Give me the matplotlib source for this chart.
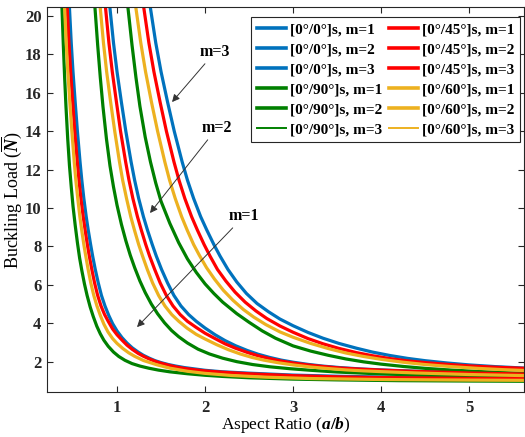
import matplotlib
matplotlib.use('Agg')
import matplotlib.pyplot as plt

plt.rcParams['font.family'] = 'Liberation Serif'
plt.rcParams['font.weight'] = 'bold'
plt.rcParams['mathtext.fontset'] = 'custom'
plt.rcParams['mathtext.rm'] = 'Liberation Serif:bold'
plt.rcParams['mathtext.it'] = 'Liberation Serif:italic:bold'

# [0/0]s
ar_00_m1 = [0.445, 0.46, 0.48, 0.50, 0.525, 0.55, 0.58, 0.60, 0.623, 0.65, 0.673, 0.70, 0.723, 0.753, 0.787, 0.823, 0.863, 0.907, 0.95, 1.0,
            1.057, 1.113, 1.173, 1.24, 1.3, 1.367, 1.433, 1.5, 1.583, 1.667, 1.767, 1.883, 2.0, 2.2, 2.5, 3.0, 3.5, 4.0, 5.0, 6.0]
n_00_m1 = [22, 20.4, 18.6, 17.1, 15.5, 14.0, 12.4, 11.45, 10.5, 9.55, 8.85, 8.1, 7.5, 6.8, 6.1, 5.45, 4.9, 4.4, 3.98, 3.6,
           3.25, 2.97, 2.72, 2.5, 2.33, 2.18, 2.05, 1.95, 1.85, 1.77, 1.69, 1.62, 1.55, 1.47, 1.4, 1.3, 1.24, 1.2, 1.16, 1.13]
ar_00_m2 = [0.89, 0.92, 0.96, 1.0, 1.05, 1.1, 1.16, 1.2, 1.246, 1.3, 1.346, 1.4, 1.446, 1.506, 1.574, 1.646, 1.726, 1.814,
            1.9, 2.0, 2.114, 2.226, 2.346, 2.48, 2.6, 2.734, 2.866, 3.0, 3.166, 3.334, 3.534, 3.766, 4.0, 4.4, 5.0, 6.0]
n_00_m2 = [22, 20.4, 18.6, 17.1, 15.5, 14.0, 12.4, 11.45, 10.5, 9.55, 8.85, 8.1, 7.5, 6.8, 6.1, 5.45, 4.9, 4.45,
           4.1, 3.75, 3.4, 3.1, 2.83, 2.58, 2.39, 2.22, 2.08, 1.97, 1.86, 1.77, 1.69, 1.62, 1.57, 1.5, 1.42, 1.33]
ar_00_m3 = [1.335, 1.38, 1.44, 1.50, 1.575, 1.65, 1.74, 1.80, 1.87, 1.95, 2.02, 2.10, 2.17, 2.26, 2.36, 2.47, 2.59,
            2.72, 2.85, 3.0, 3.17, 3.34, 3.52, 3.72, 3.9, 4.1, 4.3, 4.5, 4.75, 5.0, 5.3, 5.65, 6.0]
n_00_m3 = [22, 20.4, 18.6, 17.1, 15.5, 14.0, 12.4, 11.45, 10.5, 9.55, 8.85, 8.1, 7.5, 6.8, 6.15, 5.55, 5.03,
           4.6, 4.22, 3.87, 3.52, 3.22, 2.95, 2.7, 2.5, 2.32, 2.17, 2.05, 1.93, 1.83, 1.74, 1.66, 1.6]

# [0/90]s
ar_090_m1 = [0.363, 0.375, 0.39, 0.405, 0.42, 0.44, 0.46, 0.48, 0.50, 0.525, 0.55, 0.575, 0.60, 0.63, 0.66, 0.695, 0.73, 0.77, 0.81,
             0.85, 0.9, 0.96, 1.02, 1.09, 1.17, 1.26, 1.36, 1.47, 1.6, 1.8, 2.0, 2.2, 2.5, 3.0, 3.5, 4.2, 5.0, 6.0]
n_090_m1 = [22, 20.4, 18.5, 16.8, 15.3, 13.6, 12.2, 11.1, 10.1, 9.1, 8.2, 7.4, 6.75, 6.05, 5.45, 4.85, 4.35, 3.85, 3.45,
            3.12, 2.8, 2.5, 2.27, 2.07, 1.9, 1.77, 1.66, 1.56, 1.47, 1.37, 1.29, 1.23, 1.16, 1.09, 1.05, 1.01, 0.99, 0.97]
ar_090_m2 = [0.726, 0.75, 0.78, 0.81, 0.84, 0.88, 0.92, 0.96, 1.0, 1.05, 1.1, 1.15, 1.2, 1.26, 1.32, 1.39, 1.46, 1.54,
             1.62, 1.7, 1.8, 1.92, 2.05, 2.2, 2.36, 2.54, 2.74, 2.97, 3.2, 3.5, 3.9, 4.4, 5.0, 5.7, 6.0]
n_090_m2 = [22, 20.4, 18.5, 16.8, 15.3, 13.6, 12.2, 11.1, 10.15, 9.15, 8.3, 7.55, 6.9, 6.2, 5.6, 5.0, 4.5, 4.02,
            3.62, 3.3, 2.97, 2.65, 2.4, 2.18, 2.0, 1.85, 1.73, 1.63, 1.55, 1.46, 1.38, 1.3, 1.24, 1.19, 1.17]
ar_090_m3 = [1.089, 1.125, 1.17, 1.215, 1.26, 1.32, 1.38, 1.44, 1.5, 1.6, 1.7, 1.8, 1.9, 2.0, 2.1, 2.2, 2.36, 2.5,
             2.65, 2.8, 3.0, 3.2, 3.4, 3.6, 3.8, 4.0, 4.25, 4.5, 4.8, 5.1, 5.4, 5.7, 6.0]
n_090_m3 = [22, 20.4, 18.5, 16.8, 15.3, 13.7, 12.4, 11.3, 10.35, 9.2, 8.2, 7.35, 6.65, 6.05, 5.55, 5.1, 4.5, 4.05,
            3.6, 3.22, 2.82, 2.55, 2.33, 2.14, 1.99, 1.87, 1.75, 1.65, 1.56, 1.49, 1.43, 1.38, 1.34]

# [0/45]s
ar_045_m1 = [0.42, 0.435, 0.454, 0.473, 0.497, 0.52, 0.549, 0.568, 0.59, 0.616, 0.638, 0.663, 0.685, 0.714, 0.745, 0.78, 0.818, 0.859, 0.9,
             0.95, 1.0, 1.057, 1.113, 1.173, 1.24, 1.3, 1.367, 1.433, 1.5, 1.583, 1.667, 1.767, 1.883, 2.0, 2.2, 2.5, 3.0, 3.5, 4.0, 5.0, 6.0]
n_045_m1 = [22, 20.4, 18.6, 17.1, 15.5, 14.0, 12.4, 11.45, 10.5, 9.55, 8.85, 8.1, 7.5, 6.8, 6.1, 5.45, 4.9, 4.45, 4.1,
            3.7, 3.4, 3.12, 2.86, 2.64, 2.43, 2.28, 2.14, 2.02, 1.92, 1.82, 1.73, 1.65, 1.58, 1.52, 1.45, 1.37, 1.27, 1.21, 1.17, 1.13, 1.11]
ar_045_m2 = [0.84, 0.87, 0.908, 0.946, 0.994, 1.04, 1.098, 1.136, 1.18, 1.232, 1.276, 1.326, 1.37, 1.428, 1.49, 1.56, 1.636, 1.718,
             1.8, 1.9, 2.0, 2.114, 2.226, 2.346, 2.48, 2.6, 2.734, 2.866, 3.0, 3.166, 3.334, 3.534, 3.766, 4.0, 4.4, 5.0, 6.0]
n_045_m2 = [22, 20.4, 18.6, 17.1, 15.5, 14.0, 12.4, 11.45, 10.5, 9.55, 8.85, 8.1, 7.5, 6.8, 6.1, 5.45, 4.9, 4.45,
            4.1, 3.78, 3.48, 3.2, 2.93, 2.7, 2.48, 2.31, 2.16, 2.03, 1.93, 1.83, 1.75, 1.67, 1.61, 1.56, 1.49, 1.41, 1.32]
ar_045_m3 = [1.26, 1.305, 1.362, 1.419, 1.49, 1.561, 1.647, 1.704, 1.77, 1.847, 1.913, 1.989, 2.056, 2.141, 2.236, 2.341, 2.455,
             2.578, 2.7, 2.85, 3.0, 3.17, 3.34, 3.52, 3.72, 3.9, 4.1, 4.3, 4.5, 4.75, 5.0, 5.3, 5.65, 6.0]
n_045_m3 = [22, 20.4, 18.6, 17.1, 15.5, 14.0, 12.4, 11.45, 10.5, 9.55, 8.85, 8.1, 7.5, 6.8, 6.2, 5.62, 5.1,
            4.64, 4.25, 3.86, 3.53, 3.2, 2.93, 2.69, 2.47, 2.31, 2.16, 2.04, 1.95, 1.86, 1.78, 1.71, 1.65, 1.6]

# [0/60]s
ar_060_m1 = [0.392, 0.405, 0.423, 0.441, 0.464, 0.487, 0.514, 0.532, 0.554, 0.578, 0.599, 0.623, 0.645, 0.672, 0.702, 0.736, 0.772, 0.811,
             0.851, 0.897, 0.95, 1.0, 1.067, 1.133, 1.2, 1.3, 1.45, 1.6, 1.8, 2.0, 2.3, 2.7, 3.2, 4.0, 5.0, 6.0]
n_060_m1 = [22, 20.4, 18.6, 17.1, 15.5, 14.0, 12.4, 11.45, 10.5, 9.55, 8.85, 8.1, 7.5, 6.8, 6.1, 5.45, 4.9, 4.4,
            3.95, 3.55, 3.2, 2.95, 2.68, 2.46, 2.28, 2.06, 1.84, 1.66, 1.5, 1.39, 1.28, 1.19, 1.12, 1.07, 1.04, 1.02]
ar_060_m2 = [0.784, 0.81, 0.846, 0.882, 0.928, 0.974, 1.028, 1.064, 1.108, 1.156, 1.198, 1.246, 1.29, 1.344, 1.404, 1.472, 1.544, 1.622,
             1.702, 1.794, 1.9, 2.0, 2.134, 2.266, 2.4, 2.534, 2.666, 2.834, 3.0, 3.2, 3.4, 3.6, 3.8, 4.0, 4.4, 5.0, 6.0]
n_060_m2 = [22, 20.4, 18.6, 17.1, 15.5, 14.0, 12.4, 11.45, 10.5, 9.55, 8.85, 8.1, 7.5, 6.8, 6.1, 5.45, 4.9, 4.45,
            4.1, 3.75, 3.42, 3.18, 2.88, 2.62, 2.4, 2.22, 2.08, 1.94, 1.83, 1.72, 1.64, 1.57, 1.52, 1.48, 1.41, 1.33, 1.24]
ar_060_m3 = [1.176, 1.215, 1.27, 1.324, 1.392, 1.461, 1.543, 1.597, 1.661, 1.734, 1.797, 1.87, 1.934, 2.016, 2.107, 2.207, 2.316,
             2.434, 2.553, 2.69, 2.85, 3.0, 3.2, 3.4, 3.6, 3.8, 4.0, 4.25, 4.5, 4.8, 5.1, 5.4, 5.7, 6.0]
n_060_m3 = [22, 20.4, 18.6, 17.1, 15.5, 14.0, 12.4, 11.45, 10.5, 9.55, 8.85, 8.1, 7.55, 6.9, 6.3, 5.72, 5.2,
            4.72, 4.32, 3.93, 3.55, 3.27, 2.95, 2.68, 2.45, 2.27, 2.12, 1.97, 1.85, 1.74, 1.65, 1.58, 1.53, 1.49]

blue = '#0072BD'
green = '#008000'
red = '#FF0000'
yellow = '#EDB120'

series = [
    (ar_00_m1, n_00_m1, blue, '[0°/0°]s, m=1'),
    (ar_00_m2, n_00_m2, blue, '[0°/0°]s, m=2'),
    (ar_00_m3, n_00_m3, blue, '[0°/0°]s, m=3'),
    (ar_090_m1, n_090_m1, green, '[0°/90°]s, m=1'),
    (ar_090_m2, n_090_m2, green, '[0°/90°]s, m=2'),
    (ar_090_m3, n_090_m3, green, '[0°/90°]s, m=3'),
    (ar_045_m1, n_045_m1, red, '[0°/45°]s, m=1'),
    (ar_045_m2, n_045_m2, red, '[0°/45°]s, m=2'),
    (ar_045_m3, n_045_m3, red, '[0°/45°]s, m=3'),
    (ar_060_m1, n_060_m1, yellow, '[0°/60°]s, m=1'),
    (ar_060_m2, n_060_m2, yellow, '[0°/60°]s, m=2'),
    (ar_060_m3, n_060_m3, yellow, '[0°/60°]s, m=3'),
]

fig = plt.figure(figsize=(5.25, 4.37), dpi=100)
ax = fig.add_axes([0.0895, 0.103, 0.909, 0.881])

for x, y, c, lab in series:
    ax.plot(x, y, color=c, lw=2.3, label=lab, solid_joinstyle='round')

ax.set_xlim(0.2045, 5.625)
ax.set_ylim(0.42, 20.47)
ax.set_xticks([1, 2, 3, 4, 5])
ax.set_yticks(range(2, 21, 2))
ax.tick_params(direction='in', top=True, right=True, length=4, width=0.8,
               colors='#262626', labelsize=12, pad=4)
ax.tick_params(axis='x', pad=6)
for s in ax.spines.values():
    s.set_color('#262626')
    s.set_linewidth(0.8)

ax.set_xlabel('Aspect Ratio ($a/b$)', fontsize=12.5, labelpad=-1)
ax.set_ylabel(r'Buckling Load ($\overline{N}$)', fontsize=13)
ax.yaxis.set_label_coords(-0.048, 0.5)

leg = ax.legend(ncol=2, loc='upper right', bbox_to_anchor=(0.9916, 0.974),
                fontsize=11, frameon=True, fancybox=False, framealpha=1,
                edgecolor='#262626', handlelength=1.9, handletextpad=0.3,
                columnspacing=0.4, labelspacing=0.42, borderpad=0.35,
                borderaxespad=0)
leg.get_frame().set_linewidth(0.8)
for i, line in enumerate(leg.get_lines()):
    line.set_linewidth(1.4 if i in (5, 11) else 2.6)

arrow = dict(arrowstyle='-|>', color='#333333', lw=0.7, mutation_scale=11,
             shrinkA=1, shrinkB=0)
ax.annotate('m=3', xy=(1.625, 15.52), xytext=(2.114, 18.13), fontsize=11.5,
            ha='center', va='center', arrowprops=arrow)
ax.annotate('m=2', xy=(1.375, 9.74), xytext=(2.136, 14.17), fontsize=11.5,
            ha='center', va='center', arrowprops=arrow)
ax.annotate('m=1', xy=(1.227, 3.80), xytext=(2.443, 9.58), fontsize=11.5,
            ha='center', va='center', arrowprops=arrow)

fig.savefig('out.png', dpi=100)
